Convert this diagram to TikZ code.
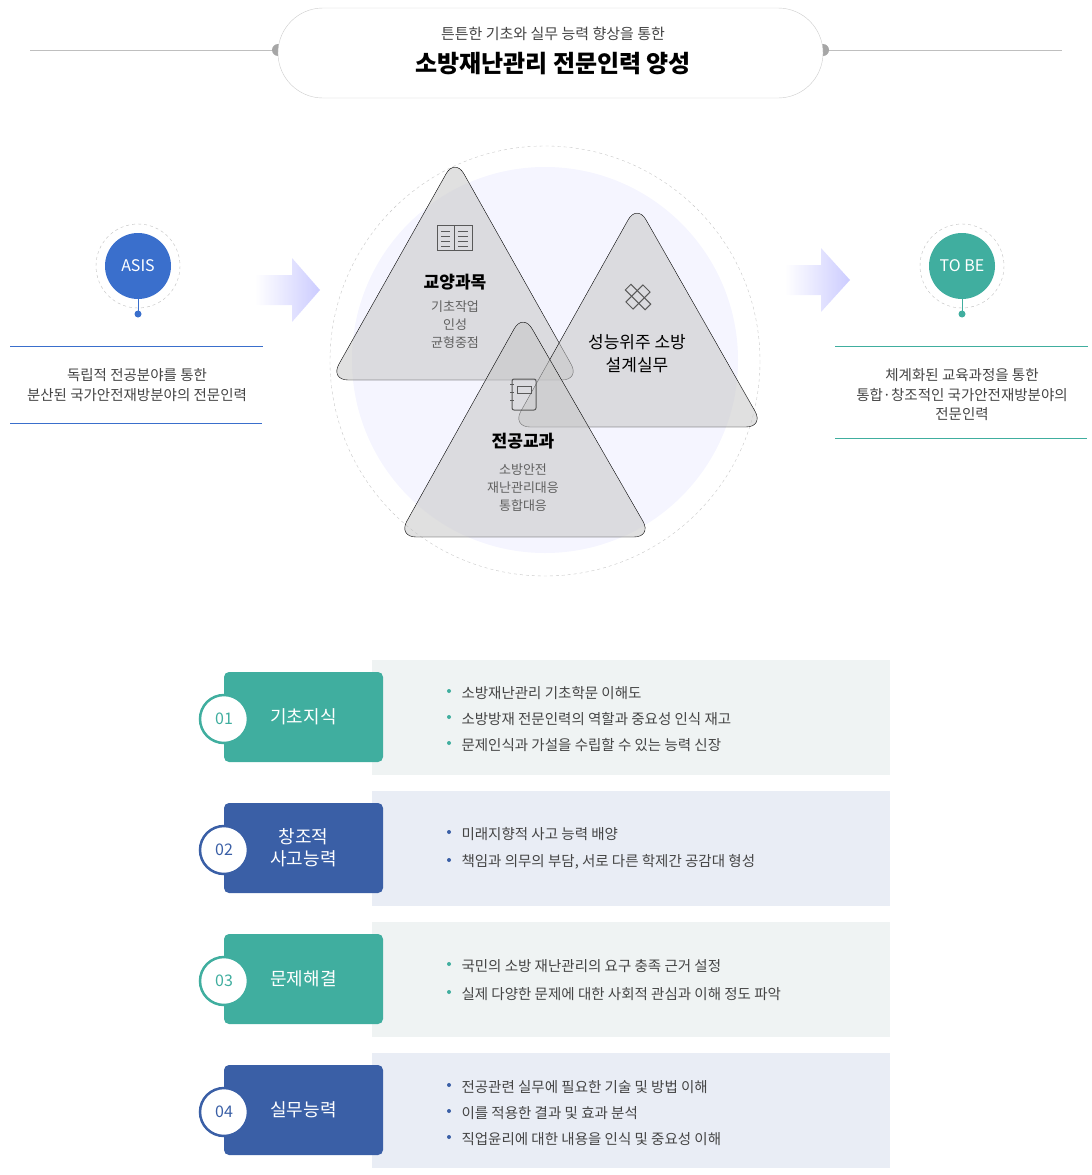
\documentclass[tikz,border=0pt]{standalone}
\usepackage{fontspec}
\setmainfont{Noto Sans CJK KR}
\usetikzlibrary{positioning}
\definecolor{teal}{HTML}{40AE9F}
\definecolor{navy}{HTML}{3A5FA6}
\definecolor{sky}{HTML}{3A6FCC}
\definecolor{txt}{HTML}{444444}
\definecolor{tealbg}{HTML}{EFF3F3}
\definecolor{navybg}{HTML}{E9EDF5}
\newcommand{\fs}[1]{\fontsize{#1}{#1}\selectfont}
\tikzset{
  tri/.style={fill=gray!45, fill opacity=0.55, rounded corners=18pt},
  sub/.style={text=gray!75!black, font=\fs{13}},
  item/.style={anchor=west, text=txt, font=\fs{14.5}},
  numbox/.style={rounded corners=5pt, minimum width=159pt, minimum height=90pt, text=white, font=\fs{18}, align=center},
  numdot/.style={circle, fill=white, line width=2.5pt, minimum size=48pt, font=\fs{16}}
}
\begin{document}
\begin{tikzpicture}[x=1pt,y=-1pt]
\useasboundingbox (0,0) rectangle (1092,1175);

% title
\draw[gray!50] (30,50) -- (278,50) (823,50) -- (1062,50);
\fill[gray!70] (278,50) circle (6) (823,50) circle (6);
\draw[gray!40, fill=white, rounded corners=45pt] (278,8) rectangle (823,98);
\node (subtitle) at (553,34) {\fs{15}\color{txt}튼튼한 기초와 실무 능력 향상을 통한};
\node (title) at (553,64) {\fs{24}\bfseries 소방재난관리 전문인력 양성};

% centre circle and triangles
\fill[blue!4] (545,360) circle (193);
\draw[gray!45, dashed] (545,361) circle (215);
\draw[tri] (455,158) -- (580,380) -- (330,380) -- cycle;
\draw[tri] (637,204) -- (764,427) -- (512,427) -- cycle;
\draw[tri] (523,313) -- (652,537) -- (398,537) -- cycle;

% icons
\begin{scope}[gray!70!black, line width=1pt]
  \draw (437,225) rectangle (472,250) (454,225) -- (454,250);
  \foreach \y in {231,236,241,246} \draw (441,\y) -- (450,\y) (458,\y) -- (468,\y);
  \draw[rotate around={45:(638,297)}] (626,292) rectangle (650,302);
  \draw[rotate around={-45:(638,297)}] (624,293) rectangle (652,301);
  \draw[rounded corners=2pt] (512,379) rectangle (536,410);
  \draw (517,386) rectangle (531,393);
  \foreach \y in {384,392,400} \draw (510,\y) -- (514,\y);
\end{scope}

\node (ga) at (455,282) {\fs{17}\bfseries 교양과목};
\node[sub, align=center] (gasub) at (455,325) {기초작업\\[5pt]인성\\[5pt]균형중점};
\node[font=\fs{17}, align=center] (sw) at (637,354) {성능위주 소방\\[6pt]설계실무};
\node (jg) at (523,441) {\fs{17}\bfseries 전공교과};
\node[sub, align=center] (jgsub) at (523,488) {소방안전\\[5pt]재난관리대응\\[5pt]통합대응};

% arrows
\shade[left color=white, right color=blue!20] (255,275) -- (292,275) -- (292,258) -- (320,290) -- (292,322) -- (292,305) -- (255,305) -- cycle;
\shade[left color=white, right color=blue!20] (785,265) -- (821,265) -- (821,248) -- (850,280) -- (821,312) -- (821,295) -- (785,295) -- cycle;

% ASIS
\draw[gray!50, dashed] (138,266) circle (42);
\node[circle, fill=sky, minimum size=66pt, text=white, font=\fs{16}] (asis) at (138,266) {ASIS};
\coordinate (asisdot) at (138,314);
\draw[sky] (asis) -- (asisdot);
\fill[sky] (asisdot) circle (3.5);
\draw[sky] (10,346) -- (263,346);
\draw[sky] (10,423) -- (262,423);
\node[align=center, text=txt, font=\fs{14.5}] (asistxt) at (137,385) {독립적 전공분야를 통한\\[5pt]분산된 국가안전재방분야의 전문인력};

% TO BE
\draw[gray!50, dashed] (962,266) circle (42);
\node[circle, fill=teal, minimum size=66pt, text=white, font=\fs{16}] (tobe) at (962,266) {TO BE};
\coordinate (tobedot) at (962,314);
\draw[teal] (tobe) -- (tobedot);
\fill[teal] (tobedot) circle (3.5);
\draw[teal] (835,346) -- (1088,346);
\draw[teal] (835,438) -- (1087,438);
\node[align=center, text=txt, font=\fs{14.5}] (tobetxt) at (962,395) {체계화된 교육과정을 통한\\[5pt]통합·창조적인 국가안전재방분야의\\[5pt]전문인력};

% rows
\foreach \y/\c/\n/\t in {717/teal/01/기초지식, 848/navy/02/{창조적\\[4pt]사고능력}, 979/teal/03/문제해결, 1110/navy/04/실무능력} {
  \fill[\c bg] (372,\y-57) rectangle (890,\y+58);
  \node[numbox, fill=\c] (box\n) at (303.5,\y) {\t};
  \node[numdot, draw=\c, text=\c] (dot\n) at (224,\y+2) {\n};
}
\foreach \y/\c/\t in {
  693/teal/소방재난관리 기초학문 이해도, 719/teal/소방방재 전문인력의 역할과 중요성 인식 재고, 745/teal/문제인식과 가설을 수립할 수 있는 능력 신장,
  834/navy/미래지향적 사고 능력 배양, 862/navy/{책임과 의무의 부담, 서로 다른 학제간 공감대 형성},
  966/teal/국민의 소방 재난관리의 요구 충족 근거 설정, 994/teal/실제 다양한 문제에 대한 사회적 관심과 이해 정도 파악,
  1087/navy/전공관련 실무에 필요한 기술 및 방법 이해, 1113/navy/이를 적용한 결과 및 효과 분석, 1139/navy/직업윤리에 대한 내용을 인식 및 중요성 이해} {
  \fill[\c] (449,\y-2) circle (2);
  \node[item] at (458,\y) {\t};
}
\end{tikzpicture}
\end{document}
